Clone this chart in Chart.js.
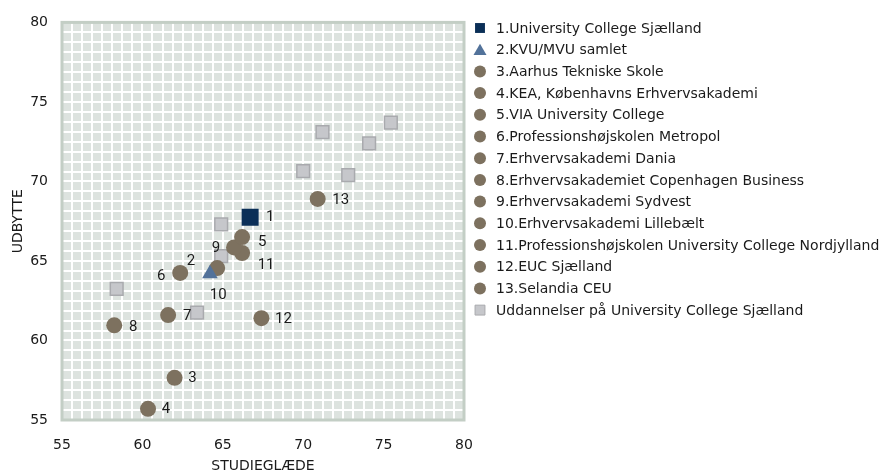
<!DOCTYPE html>
<html>
<head>
<meta charset="utf-8">
<title>Studieglæde og udbytte</title>
<script src="https://cdn.jsdelivr.net/npm/chart.js@4.4.1/dist/chart.umd.min.js"></script>
<style>
    html, body { margin: 0; padding: 0; background: #ffffff; }
    #wrap { width: 882px; height: 475px; }
</style>
</head>
<body>
<div id="wrap"><canvas id="scatterChart" width="882" height="475"></canvas></div>
<script>
// Institutioner (legend order)
const institutions = [
    '1.University College Sjælland',
    '2.KVU/MVU samlet',
    '3.Aarhus Tekniske Skole',
    '4.KEA, Københavns Erhvervsakademi',
    '5.VIA University College',
    '6.Professionshøjskolen Metropol',
    '7.Erhvervsakademi Dania',
    '8.Erhvervsakademiet Copenhagen Business',
    '9.Erhvervsakademi Sydvest',
    '10.Erhvervsakademi Lillebælt',
    '11.Professionshøjskolen University College Nordjylland',
    '12.EUC Sjælland',
    '13.Selandia CEU'
];
const pointLabels = ['1', '2', '3', '4', '5', '6', '7', '8', '9', '10', '11', '12', '13'];

// x = studieglæde, y = udbytte
const studieglaede = [66.7, 64.2, 62.0, 60.35, 66.2, 62.35, 61.6, 58.25, 65.7, 64.65, 66.2, 67.4, 70.9];
const udbytte = [67.75, 64.2, 57.65, 55.7, 66.5, 64.25, 61.6, 60.95, 65.85, 64.55, 65.5, 61.4, 68.9];

// Uddannelser på University College Sjælland
const ucsjLabel = 'Uddannelser på University College Sjælland';
const ucsjX = [71.2, 74.1, 75.45, 70.0, 72.8, 64.9, 64.9, 58.4, 63.4];
const ucsjY = [73.1, 72.4, 73.7, 70.65, 70.4, 67.3, 65.3, 63.25, 61.75];

const xTitle = 'STUDIEGLÆDE';
const yTitle = 'UDBYTTE';
const axisMin = 55;
const axisMax = 80;
const labelStep = 5;

// label offsets in px (style only)
const labelOffsets = [
    [20, 0], [-19, -12], [18, 0], [18, 0], [20, 5], [-19, 3], [19, 1],
    [19, 2], [-18, 1], [1, 27], [24, 12], [22, 1], [23, 1]
];

const FONT = "'DejaVu Sans', Verdana, sans-serif";
const NAVY = '#0b2f57';
const STEEL = '#52729a';
const TAUPE = '#7d715f';

const datasets = institutions.map(function (name, i) {
    let style = { pointStyle: 'circle', pointRadius: 8, backgroundColor: TAUPE };
    if (i === 0) style = { pointStyle: 'rect', pointRadius: 12, backgroundColor: NAVY };
    if (i === 1) style = { pointStyle: 'triangle', pointRadius: 9, backgroundColor: STEEL };
    return Object.assign({
        label: name,
        data: [{ x: studieglaede[i], y: udbytte[i] }],
        borderWidth: 0,
        borderColor: style.backgroundColor
    }, style);
});
datasets.push({
    label: ucsjLabel,
    data: ucsjX.map(function (x, i) { return { x: x, y: ucsjY[i] }; }),
    pointStyle: 'rect',
    pointRadius: 9,
    backgroundColor: '#c6c7cb',
    borderColor: '#a9aaae',
    borderWidth: 1.5
});

const plotFrame = {
    id: 'plotFrame',
    beforeDraw(chart) {
        const a = chart.chartArea, ctx = chart.ctx;
        ctx.save();
        ctx.fillStyle = '#dde3df';
        ctx.fillRect(a.left, a.top, a.right - a.left, a.bottom - a.top);
        ctx.restore();
    },
    beforeDatasetsDraw(chart) {
        const a = chart.chartArea, ctx = chart.ctx;
        ctx.save();
        ctx.strokeStyle = '#c3cec5';
        ctx.lineWidth = 3;
        ctx.strokeRect(a.left, a.top, a.right - a.left, a.bottom - a.top);
        ctx.restore();
    }
};

const pointNumbers = {
    id: 'pointNumbers',
    afterDatasetsDraw(chart) {
        const ctx = chart.ctx;
        ctx.save();
        ctx.font = "15px Roboto, 'Liberation Sans', sans-serif";
        ctx.fillStyle = '#1a1a1a';
        ctx.textAlign = 'center';
        ctx.textBaseline = 'middle';
        pointLabels.forEach(function (txt, i) {
            const el = chart.getDatasetMeta(i).data[0];
            const off = labelOffsets[i];
            ctx.fillText(txt, el.x + off[0], el.y + off[1]);
        });
        ctx.restore();
    }
};

const sideLegend = {
    id: 'sideLegend',
    afterDraw(chart) {
        const ctx = chart.ctx;
        const x0 = 480, y0 = 28, rowH = 21.7;
        ctx.save();
        ctx.font = '14px ' + FONT;
        ctx.textBaseline = 'middle';
        ctx.textAlign = 'left';
        chart.data.datasets.forEach(function (ds, i) {
            const y = y0 + i * rowH;
            ctx.fillStyle = ds.backgroundColor;
            ctx.strokeStyle = ds.borderColor;
            let r = 6;
            if (ds.pointStyle === 'rect') r = 7;
            if (ds.pointStyle === 'triangle') r = 7.5;
            Chart.helpers.drawPoint(ctx, {
                pointStyle: ds.pointStyle,
                radius: r,
                rotation: 0,
                borderWidth: ds.borderWidth ? 1 : 0
            }, x0, ds.pointStyle === 'triangle' ? y + 1.5 : y);
            ctx.fillStyle = '#1a1a1a';
            ctx.fillText(ds.label, 496, y + 1);
        });
        ctx.restore();
    }
};

new Chart(document.getElementById('scatterChart'), {
    type: 'scatter',
    data: { datasets: datasets },
    options: {
        responsive: false,
        animation: false,
        events: [],
        layout: { padding: { left: 0, right: 418, top: 17, bottom: 0 } },
        plugins: {
            legend: { display: false },
            tooltip: { enabled: false }
        },
        scales: {
            x: {
                type: 'linear',
                min: axisMin,
                max: axisMax,
                afterFit: function (scale) { scale.height = 55; },
                grid: { color: '#ffffff', lineWidth: 2, drawTicks: false },
                border: { display: false },
                ticks: {
                    stepSize: 0.625,
                    autoSkip: false,
                    maxRotation: 0,
                    padding: 17,
                    color: '#1a1a1a',
                    font: { family: FONT, size: 14 },
                    callback: function (v) { return Number.isInteger(v / labelStep) ? v : ''; }
                },
                title: {
                    display: true,
                    text: xTitle,
                    color: '#1a1a1a',
                    font: { family: FONT, size: 14 },
                    padding: 0
                }
            },
            y: {
                type: 'linear',
                min: axisMin,
                max: axisMax,
                afterFit: function (scale) { scale.width = 62; },
                grid: { color: '#ffffff', lineWidth: 2, drawTicks: false },
                border: { display: false },
                ticks: {
                    stepSize: 0.625,
                    autoSkip: false,
                    padding: 14,
                    color: '#1a1a1a',
                    font: { family: FONT, size: 14 },
                    callback: function (v) { return Number.isInteger(v / labelStep) ? v : ''; }
                },
                title: {
                    display: true,
                    text: yTitle,
                    color: '#1a1a1a',
                    font: { family: FONT, size: 14 },
                    padding: { top: 10, bottom: 0 }
                }
            }
        }
    },
    plugins: [plotFrame, pointNumbers, sideLegend]
});
</script>
</body>
</html>
